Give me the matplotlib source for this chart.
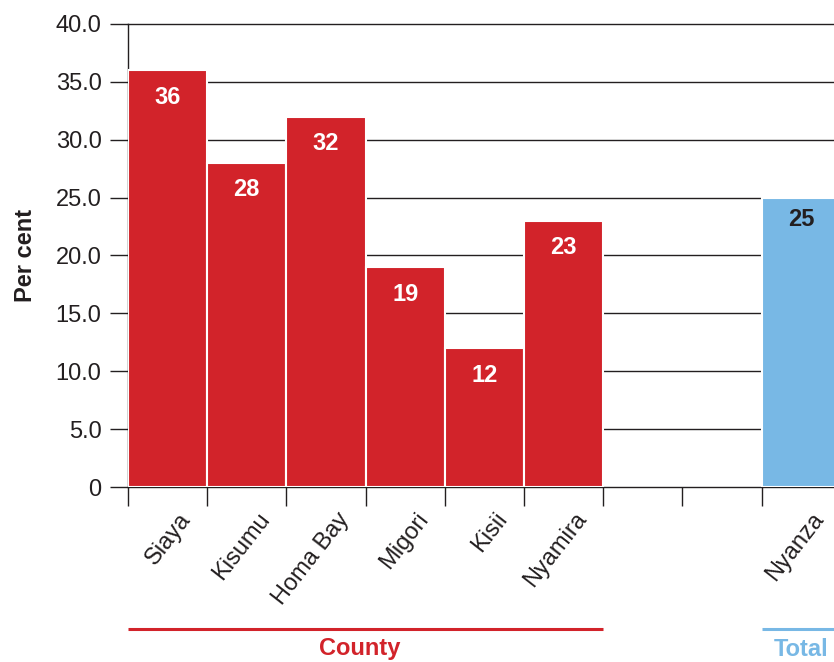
import matplotlib
matplotlib.use("Agg")
import matplotlib.pyplot as plt
import matplotlib.transforms as mtransforms

plt.rcParams['font.family'] = ['Liberation Sans', 'DejaVu Sans']

# data
counties = ["Siaya", "Kisumu", "Homa Bay", "Migori", "Kisii", "Nyamira"]
county_values = [36, 28, 32, 19, 12, 23]
total_name = "Nyanza"
total_value = 25
y_ticks = [0, 5, 10, 15, 20, 25, 30, 35, 40]
y_tick_labels = ["0", "5.0", "10.0", "15.0", "20.0", "25.0", "30.0", "35.0", "40.0"]
group_names = ["County", "Total"]

RED = "#d2232a"
BLUE = "#78b8e5"
INK = "#231f20"
FS = 17

fig = plt.figure(figsize=(8.34, 6.62), dpi=100)
ax = fig.add_axes([128 / 834, 1 - 487 / 662, 706 / 834, 463 / 662])

county_x = list(range(len(counties)))
total_x = len(counties) + 2  # two empty slots before the total

ax.bar(county_x, county_values, width=1, align='edge', color=RED,
       edgecolor='white', linewidth=1.5, zorder=3)
ax.bar([total_x], [total_value], width=1, align='edge', color=BLUE,
       edgecolor='white', linewidth=1.5, zorder=3)

ax.set_xlim(0, 706 / 79.2)
ax.set_ylim(0, 40)

# horizontal rules behind the bars
for y in y_ticks:
    ax.axhline(y, color=INK, lw=1, zorder=1, clip_on=False)

ax.set_yticks(y_ticks, y_tick_labels)
ax.tick_params(axis='y', length=13, width=1, pad=6, labelsize=FS,
               colors=INK, direction='out')
ax.set_xticks(range(total_x + 1))
ax.set_xticklabels([])
ax.tick_params(axis='x', length=14, width=1, colors=INK, direction='out')

for side in ['top', 'right', 'bottom']:
    ax.spines[side].set_visible(False)
ax.spines['left'].set_color(INK)
ax.spines['left'].set_linewidth(1)

ax.set_ylabel("Per cent", fontsize=FS, fontweight='bold', color=INK)
ax.yaxis.set_label_coords(-0.129, 0.5)

# value labels
for i, v in zip(county_x, county_values):
    ax.annotate(str(v), (i + 0.5, v), xytext=(0, -19.5), textcoords='offset points',
                ha='center', va='center', color='white', fontsize=FS,
                fontweight='bold', zorder=4)
ax.annotate(str(total_value), (total_x + 0.5, total_value), xytext=(0, -15.5),
            textcoords='offset points', ha='center', va='center', color=INK,
            fontsize=FS, fontweight='bold', zorder=4)

# category labels
names = counties + [total_name]
positions = county_x + [total_x]
for name, x in zip(names, positions):
    ax.annotate(name, (x + 0.5, 0), xytext=(16.9, -23), textcoords='offset points',
                rotation=52, rotation_mode='anchor', ha='right', va='baseline',
                fontsize=FS, color=INK, annotation_clip=False)

# group brackets
trans = mtransforms.blended_transform_factory(ax.transData, fig.transFigure)
line_y = 1 - 629 / 662
text_y = 1 - 649 / 662
ax.plot([0, len(counties)], [line_y, line_y], color=RED, lw=2.2,
        transform=trans, clip_on=False, solid_capstyle='butt')
ax.plot([total_x, total_x + 1], [line_y, line_y], color=BLUE, lw=2.2,
        transform=trans, clip_on=False, solid_capstyle='butt')
ax.text(2.92, text_y, group_names[0], transform=trans, ha='center', va='center',
        fontsize=FS, fontweight='bold', color=RED)
ax.text(total_x + 0.5, text_y, group_names[1], transform=trans, ha='center',
        va='center', fontsize=FS, fontweight='bold', color=BLUE)

fig.savefig("out.png", dpi=100)
